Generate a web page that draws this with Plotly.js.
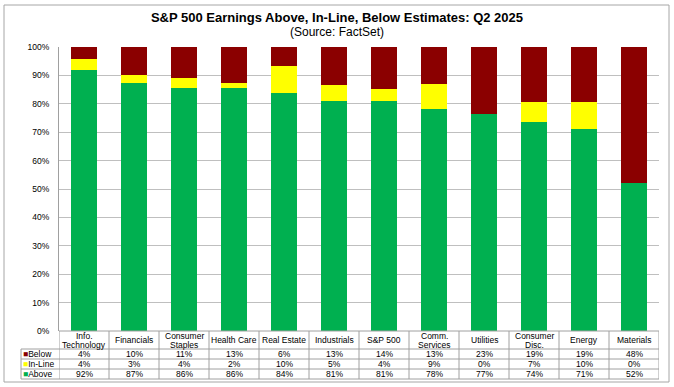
<!DOCTYPE html>
<html>
<head>
<meta charset="utf-8">
<script src="https://cdn.plot.ly/plotly-3.0.1.min.js"></script>
<style>html,body{margin:0;padding:0;background:#fff;}#chart{width:674px;height:387px;}</style>
</head>
<body>
<div id="chart"></div>
<script>
const categories = ["Info.<br>Technology","Financials","Consumer<br>Staples","Health Care","Real Estate","Industrials","S&P 500","Comm.<br>Services","Utilities","Consumer<br>Disc.","Energy","Materials"];
// printed (rounded) table values
const aboveLabel  = [92, 87, 86, 86, 84, 81, 81, 78, 77, 74, 71, 52];
const inlineLabel = [4, 3, 4, 2, 10, 5, 4, 9, 0, 7, 10, 0];
const belowLabel  = [4, 10, 11, 13, 6, 13, 14, 13, 23, 19, 19, 48];
// bar segment heights
const aboveBar  = [92.0, 87.3, 85.5, 85.5, 83.9, 81.1, 81.0, 78.1, 76.4, 73.6, 71.1, 52.0];
const inlineBar = [3.9, 2.8, 3.5, 1.9, 9.4, 5.5, 4.3, 8.7, 0, 7.1, 9.6, 0];
const belowBar  = [4.1, 9.9, 11.0, 12.6, 6.7, 13.4, 14.7, 13.2, 23.6, 19.3, 19.3, 48.0];
const seriesNames = ["Below", "In-Line", "Above"];
const seriesColors = {"Below": "#8B0000", "In-Line": "#FFFF00", "Above": "#00B050"};
const yTicks = [0,10,20,30,40,50,60,70,80,90,100];

const W = 674, H = 387;
const L = 59, R = 659, T = 47, B = 331;
const px = x => (x - L) / (R - L);
const py = y => (B - y) / (B - T);
const FONT = "Liberation Sans, Arial, sans-serif";
const TS = 8.5;
const idx = categories.map((_, i) => i);

const traces = [
  {type: 'bar', x: idx, y: aboveBar, name: 'Above', marker: {color: seriesColors['Above']}, width: 0.52, hoverinfo: 'skip'},
  {type: 'bar', x: idx, y: inlineBar, name: 'In-Line', marker: {color: seriesColors['In-Line']}, width: 0.52, hoverinfo: 'skip'},
  {type: 'bar', x: idx, y: belowBar, name: 'Below', marker: {color: seriesColors['Below']}, width: 0.52, hoverinfo: 'skip'}
];

const shapes = [];
const annotations = [];
const lineC = '#A0A0A0';
// outer border
shapes.push({type: 'rect', xref: 'paper', yref: 'paper', x0: px(4), x1: px(669), y0: py(5), y1: py(382), line: {color: '#A6A6A6', width: 1}, layer: 'below'});
// table horizontal lines
const rowY = [331, 349, 359, 369, 379];
rowY.forEach((yy, k) => {
  shapes.push({type: 'line', xref: 'paper', yref: 'paper', x0: px(k === 0 ? L : 21), x1: px(R), y0: py(yy), y1: py(yy), line: {color: lineC, width: 1}});
});
// left legend column vertical line
shapes.push({type: 'line', xref: 'paper', yref: 'paper', x0: px(21), x1: px(21), y0: py(349), y1: py(379), line: {color: lineC, width: 1}});
// vertical separators between categories
for (let i = 0; i <= categories.length; i++) {
  shapes.push({type: 'line', xref: 'x', yref: 'paper', x0: i - 0.5, x1: i - 0.5, y0: py(331), y1: py(379), line: {color: lineC, width: 1}});
}
// category labels (each line placed separately for tight line spacing)
categories.forEach((c, i) => {
  const parts = c.split('<br>');
  const ys = parts.length === 2 ? [335.5, 344.5] : [340];
  parts.forEach((p, k) => {
    annotations.push({xref: 'x', yref: 'paper', x: i, y: py(ys[k]), text: p, showarrow: false, font: {family: FONT, size: TS, color: '#000000'}, xanchor: 'center', yanchor: 'middle', borderpad: 0});
  });
});
// value rows
const rows = {"Below": belowLabel, "In-Line": inlineLabel, "Above": aboveLabel};
const rowCenters = {"Below": 354, "In-Line": 364, "Above": 374};
seriesNames.forEach(n => {
  rows[n].forEach((v, i) => {
    annotations.push({xref: 'x', yref: 'paper', x: i, y: py(rowCenters[n]), text: v + '%', showarrow: false, font: {family: FONT, size: TS, color: '#000000'}, xanchor: 'center', yanchor: 'middle', borderpad: 0});
  });
  annotations.push({xref: 'paper', yref: 'paper', x: px(22), y: py(rowCenters[n]), text: "<span style='color:" + seriesColors[n] + "'>■</span>" + n, showarrow: false, font: {family: FONT, size: TS, color: '#000000'}, xanchor: 'left', yanchor: 'middle', borderpad: 0});
});
// subtitle
annotations.push({xref: 'paper', yref: 'paper', x: px(337), y: py(32), text: '(Source: FactSet)', showarrow: false, font: {family: FONT, size: 12, color: '#000000'}, xanchor: 'center', yanchor: 'middle'});

const layout = {
  width: W, height: H,
  margin: {l: L, r: W - R, t: T, b: H - B, pad: 0},
  paper_bgcolor: '#fff', plot_bgcolor: '#fff',
  barmode: 'stack', showlegend: false,
  title: {text: '<b>S&P 500 Earnings Above, In-Line, Below Estimates: Q2 2025</b>', font: {family: FONT, size: 13, color: '#000'}, x: 337 / W, xanchor: 'center', y: 1 - 17 / H, yanchor: 'middle'},
  xaxis: {type: 'linear', range: [-0.5, categories.length - 0.5], showticklabels: false, showgrid: false, zeroline: false, showline: false, ticks: ''},
  yaxis: {range: [0, 100], tickvals: yTicks, ticktext: yTicks.map(v => v + '%'), showgrid: true, gridcolor: '#BFBFBF', gridwidth: 1, zeroline: false, showline: true, linecolor: '#A0A0A0', linewidth: 1, ticks: '', tickfont: {family: FONT, size: TS, color: '#000'}, ticklabelstandoff: 7},
  shapes: shapes,
  annotations: annotations
};
Plotly.newPlot('chart', traces, layout, {staticPlot: true, displayModeBar: false});
</script>
</body>
</html>
